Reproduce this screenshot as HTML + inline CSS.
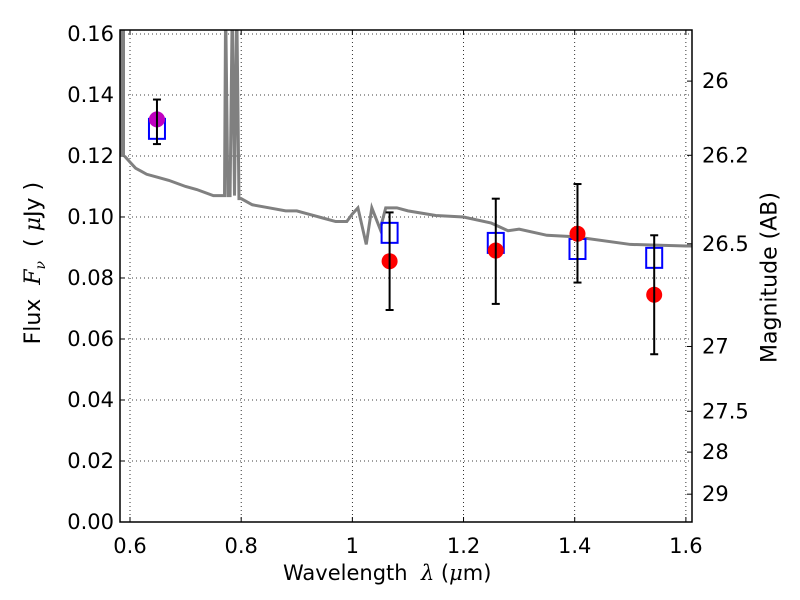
<!DOCTYPE html>
<html><head><meta charset="utf-8"><style>
body{margin:0;background:#fff;}
svg{display:block;font-family:"DejaVu Sans","Liberation Sans",sans-serif;}
</style></head><body>
<svg id="chart" width="800" height="600"></svg>
<script>
const specLam=[0.59,0.6,0.61,0.62,0.63,0.65,0.67,0.7,0.72,0.75,0.77,0.772,0.776,0.78,0.784,0.788,0.792,0.796,0.8,0.82,0.85,0.88,0.9,0.92,0.95,0.97,0.99,1.0,1.01,1.025,1.035,1.05,1.06,1.08,1.1,1.15,1.2,1.25,1.28,1.3,1.35,1.4,1.5,1.6,1.611];
const specFlux=[0.12,0.118,0.116,0.115,0.114,0.113,0.112,0.110,0.109,0.107,0.107,0.17,0.107,0.107,0.17,0.107,0.17,0.106,0.106,0.104,0.103,0.102,0.102,0.101,0.0995,0.0985,0.0985,0.101,0.103,0.091,0.103,0.096,0.103,0.103,0.102,0.1005,0.1,0.098,0.0955,0.096,0.094,0.0935,0.091,0.0905,0.0905];
const obsLam=[0.6485,1.067,1.258,1.405,1.543];
const obsFlux=[0.132,0.0855,0.089,0.0945,0.0745];
const errLo=[0.1239,0.0695,0.0715,0.0785,0.055];
const errHi=[0.1385,0.1015,0.106,0.1108,0.094];
const modelFlux=[0.1289,0.0948,0.0915,0.0895,0.0866];
const xTicks=[0.6,0.8,1.0,1.2,1.4,1.6];
const xTickLabels=["0.6","0.8","1","1.2","1.4","1.6"];
const yTicks=[0,0.02,0.04,0.06,0.08,0.1,0.12,0.14,0.16];
const yTickLabels=["0.00","0.02","0.04","0.06","0.08","0.10","0.12","0.14","0.16"];
const magTicks=[26,26.2,26.5,27,27.5,28,29];
const magTickLabels=["26","26.2","26.5","27","27.5","28","29"];

const L=120,R=692,T=30,B=522,XMIN=0.582,XMAX=1.611,YMIN=0,YMAX=0.1613;
const X=v=>L+(v-XMIN)/(XMAX-XMIN)*(R-L);
const Y=v=>B-(v-YMIN)/(YMAX-YMIN)*(B-T);
const NS="http://www.w3.org/2000/svg";
const svg=document.getElementById('chart');
function mk(t,a,p){const e=document.createElementNS(NS,t);for(const k in a)e.setAttribute(k,a[k]);(p||svg).appendChild(e);return e;}
const clip=mk('clipPath',{id:'pc'});mk('rect',{x:L,y:T,width:R-L,height:B-T},clip);

const grid=mk('g',{});


xTicks.forEach((t,i)=>{
  mk('line',{x1:X(t),x2:X(t),y1:T,y2:B,stroke:'#000','stroke-width':0.8,'stroke-dasharray':'1,3'},grid);
  mk('line',{x1:X(t),x2:X(t),y1:B,y2:B-5,stroke:'#000'});
  mk('line',{x1:X(t),x2:X(t),y1:T,y2:T+5,stroke:'#000'});
  const tx=mk('text',{x:X(t),y:B+31,'font-size':21,'text-anchor':'middle'});tx.textContent=xTickLabels[i];
  
  
});
yTicks.forEach((t,i)=>{
  mk('line',{x1:L,x2:R,y1:Y(t),y2:Y(t),stroke:'#000','stroke-width':0.8,'stroke-dasharray':'1,3'},grid);
  mk('line',{x1:L,x2:L+5,y1:Y(t),y2:Y(t),stroke:'#000'});
  const tx=mk('text',{x:L-6,y:Y(t)+7,'font-size':21,'text-anchor':'end'});tx.textContent=yTickLabels[i];
  
  
});
magTicks.forEach((m,i)=>{
  const f=Math.pow(10,(23.9-m)/2.5);
  mk('line',{x1:R,x2:R-5,y1:Y(f),y2:Y(f),stroke:'#000'});
  const tx=mk('text',{x:R+10,y:Y(f)+7,'font-size':21});tx.textContent=magTickLabels[i];
  
  
});

const g=mk('g',{'clip-path':'url(#pc)'});
mk('rect',{x:L,y:T,width:5,height:Y(0.12)-T,fill:'#808080'},g);
const sp=mk('polyline',{points:specLam.map((l,i)=>X(l)+','+Y(specFlux[i])).join(' '),fill:'none',stroke:'#808080','stroke-width':3},g);


obsLam.forEach((l,i)=>{
  const sq=mk('rect',{x:X(l)-8,y:Y(modelFlux[i])-10,width:16,height:20,fill:'none',stroke:'#0000ff','stroke-width':2},g);
  
  
});
obsLam.forEach((l,i)=>{
  const c=mk('circle',{cx:X(l),cy:Y(obsFlux[i]),r:8,fill:i===0?'#bf00bf':'#ff0000'},g);
  
  
  const eb=mk('g',{stroke:'#000','stroke-width':2},g);
  
  
  mk('line',{x1:X(l),x2:X(l),y1:Y(errLo[i]),y2:Y(errHi[i])},eb);
  mk('line',{x1:X(l)-4,x2:X(l)+4,y1:Y(errLo[i]),y2:Y(errLo[i])},eb);
  mk('line',{x1:X(l)-4,x2:X(l)+4,y1:Y(errHi[i]),y2:Y(errHi[i])},eb);
});
const fr=mk('rect',{x:L,y:T,width:R-L,height:B-T,fill:'none',stroke:'#000','stroke-width':1.5});


</script>
<div style="position:absolute;left:0;top:0;width:800px;height:600px;pointer-events:none;font-family:'DejaVu Sans','Liberation Sans',sans-serif;">
<div style="position:absolute;left:283px;top:561px;font-size:21px;white-space:nowrap;">Wavelength &nbsp;<i style="font-family:'DejaVu Serif',serif">λ</i> (<i style="font-family:'DejaVu Serif',serif">μ</i>m)</div>
<div style="position:absolute;left:-60px;top:249px;width:190px;text-align:center;transform:rotate(-90deg);font-size:22px;white-space:nowrap;">Flux &nbsp;<i style="font-family:'DejaVu Serif',serif">F<sub style="font-size:14px">ν</sub></i> &nbsp;( <i style="font-family:'DejaVu Serif',serif">μ</i>Jy )</div>
<div style="position:absolute;left:670px;top:265px;width:200px;text-align:center;transform:rotate(-90deg);font-size:22px;white-space:nowrap;">Magnitude (AB)</div>
</div>
</body></html>
